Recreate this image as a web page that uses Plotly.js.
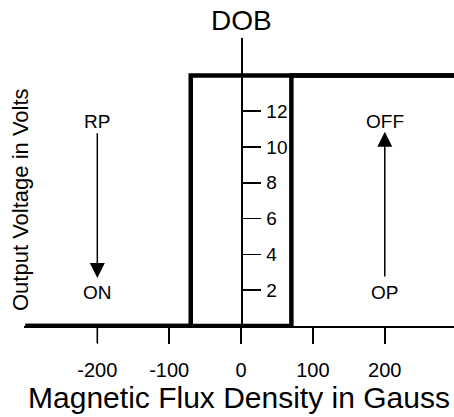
<!DOCTYPE html>
<html>
<head>
<meta charset="utf-8">
<script src="https://cdn.plot.ly/plotly-3.0.1.min.js"></script>
<style>html,body{margin:0;padding:0;background:#fff;}#chart{width:454px;height:417px;}</style>
</head>
<body>
<div id="chart"></div>
<script>
// Hysteresis branches (Magnetic flux density in Gauss vs output voltage in Volts)
const risingX = [-300, 70, 70, 300];
const risingY = [0, 0, 14, 14];
const fallingX = [300, -70, -70, -300];
const fallingY = [14, 14, 0, 0];

const xTickVals = [-200, -100, 0, 100, 200];
const xTickText = ['-200', '-100', '0', '100', '200'];
const yTickVals = [2, 4, 6, 8, 10, 12];
const yTickText = ['2', '4', '6', '8', '10', '12'];

// Arrow annotations: label positions and arrow ends
const labelText = ['RP', 'ON', 'OFF', 'OP'];
const labelX = [-200, -200, 200, 200];
const labelY = [11.4, 1.85, 11.4, 1.85];
const arrowTailX = [-200, 200];
const arrowTailY = [10.85, 2.68];
const arrowTipX = [-200, 200];
const arrowTipY = [2.68, 10.85];

const FONT = 'Liberation Sans, Arial, Helvetica, sans-serif';
const xRange = [-302, 296.3];
const yRange = [0, 16.09];

const traces = [
  {x: risingX, y: risingY, mode: 'lines', line: {color: '#000', width: 4.5}, hoverinfo: 'skip', showlegend: false},
  {x: fallingX, y: fallingY, mode: 'lines', line: {color: '#000', width: 4.5}, hoverinfo: 'skip', showlegend: false}
];

const W = 454, H = 417, L = 24, R = 0, T = 38, B = 91;
const pw = W - L - R, ph = H - T - B;

const annotations = [];
for (let i = 0; i < labelText.length; i++) {
  annotations.push({x: labelX[i], y: labelY[i], xref: 'x', yref: 'y', text: labelText[i], showarrow: false,
    font: {family: FONT, size: 19, color: '#000'}});
}
for (let i = 0; i < arrowTailX.length; i++) {
  annotations.push({x: arrowTipX[i], y: arrowTipY[i], xref: 'x', yref: 'y',
    ax: arrowTailX[i], ay: arrowTailY[i], axref: 'x', ayref: 'y', text: '', showarrow: true,
    arrowhead: 2, arrowsize: 2, arrowwidth: 1.5, arrowcolor: '#000', standoff: 0, startstandoff: 0});
}
annotations.push({x: 0, y: 1, xref: 'x', yref: 'paper', yshift: 18, text: 'DOB', showarrow: false,
  yanchor: 'middle', font: {family: FONT, size: 28, color: '#000'}});
annotations.push({x: (20 - L) / pw, y: (H - B - 200) / ph, xref: 'paper', yref: 'paper',
  xanchor: 'center', yanchor: 'middle', text: 'Output Voltage in Volts', showarrow: false,
  textangle: -90, font: {family: FONT, size: 22, color: '#000'}});

// x-axis tick marks hanging below the axis, placed at the tick values (paper refs so they are not clipped)
const tickShapes = xTickVals.map(function (v) {
  const px = (v - xRange[0]) / (xRange[1] - xRange[0]);
  return {type: 'line', xref: 'paper', yref: 'paper', x0: px, x1: px, y0: 0, y1: -17 / ph,
    line: {color: '#000', width: 1.6}, layer: 'above'};
});

const layout = {
  width: W, height: H,
  margin: {l: L, r: R, t: T, b: B, pad: 0},
  paper_bgcolor: '#fff', plot_bgcolor: '#fff',
  showlegend: false,
  font: {family: FONT, color: '#000'},
  xaxis: {
    range: xRange, showgrid: false, zeroline: false, showline: true, linecolor: '#000', linewidth: 1.5,
    ticks: 'outside', ticklen: 16, tickwidth: 1.5, tickcolor: '#000',
    tickvals: xTickVals, ticktext: xTickText, ticklabelstandoff: 9,
    tickfont: {family: FONT, size: 20, color: '#000'},
    title: {text: 'Magnetic Flux Density in Gauss', font: {family: FONT, size: 30, color: '#000'}, standoff: 2},
    fixedrange: true
  },
  yaxis: {
    range: yRange, showgrid: false, zeroline: false, showline: true, linecolor: '#000', linewidth: 1.5,
    anchor: 'free', position: (0 - xRange[0]) / (xRange[1] - xRange[0]), side: 'right',
    ticks: 'outside', ticklen: 18, tickwidth: 1.5, tickcolor: '#000',
    tickvals: yTickVals, ticktext: yTickText, ticklabelstandoff: 2,
    tickfont: {family: FONT, size: 19, color: '#000'},
    fixedrange: true
  },
  shapes: tickShapes,
  annotations: annotations
};

Plotly.newPlot('chart', traces, layout, {displayModeBar: false, staticPlot: true});
</script>
</body>
</html>
